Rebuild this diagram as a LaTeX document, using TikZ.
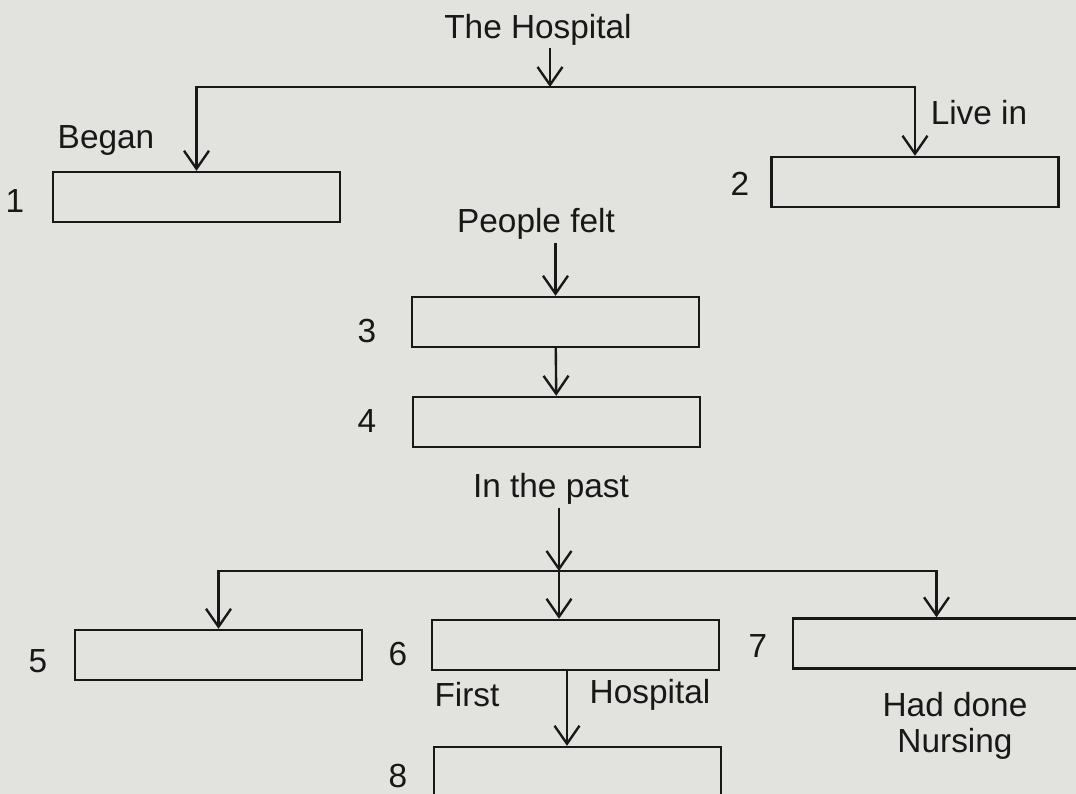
\documentclass[tikz,border=0pt]{standalone}
\usepackage{fontspec}
\setmainfont{Liberation Sans}
\usetikzlibrary{arrows.meta}
\definecolor{paper}{RGB}{226,226,222}
\definecolor{ink}{RGB}{24,24,24}

\begin{document}
\begin{tikzpicture}[x=0.02cm, y=-0.02cm, line width=1.35pt, draw=ink, text=ink,
    box/.style={draw, minimum width=5.74cm, minimum height=1cm, inner sep=0pt},
    lbl/.style={font=\fontsize{19}{20.5}\selectfont, inner sep=1pt},
    arr/.style={-{Straight Barb[length=0.36cm, width=0.5cm]}}]
    \useasboundingbox (0, 0) rectangle (1076, 794);
    \fill[paper] (0, 0) rectangle (1076, 794);
    \clip (0, 0) rectangle (1076, 794);
            % the blank boxes
            \node[box] (b1) at (196.5, 197) {};
            \node[box] (b2) at (915, 182) {};
            \node[box] (b3) at (555.5, 322) {};
            \node[box] (b4) at (556.5, 422) {};
            \node[box] (b5) at (218.5, 655) {};
            \node[box] (b6) at (575.5, 645) {};
            \node[box] (b7) at (936.5, 643.5) {};
            \node[box] (b8) at (577.5, 772) {};
            \node[lbl] (n1) at (15, 201) {1};
            \node[lbl] (n2) at (740, 184) {2};
            \node[lbl] (n3) at (367, 331) {3};
            \node[lbl] (n4) at (367, 421) {4};
            \node[lbl] (n5) at (38, 661) {5};
            \node[lbl] (n6) at (398, 654) {6};
            \node[lbl] (n7) at (758, 646) {7};
            \node[lbl] (n8) at (398, 776) {8};
            % the labels
            \node[lbl] (hosp) at (538, 30) {The Hospital};
            \node[lbl] (began) at (106, 140) {Began};
            \node[lbl] (livein) at (979, 113) {Live in};
            \node[lbl] (felt) at (536, 224) {People felt};
            \node[lbl] (past) at (551, 489) {In the past};
            \node[lbl] (first) at (467, 695) {First};
            \node[lbl] (hosp2) at (650, 695) {Hospital};
            \node[lbl, align=center] (nurse) at (955, 726) {Had done\\Nursing};
            \coordinate (j1) at (550, 87);
            \coordinate (j2) at (559, 571);
            \draw[arr] (hosp.south -| j1) -- (j1);
            \draw[arr] (j1) -| (b1.north);
            \draw[arr] (j1) -| (b2.north);
            \draw[arr] (felt.south -| b3.north) -- (b3.north);
            \path[arr]
                (b3) edge (b4)
            ;
            \draw[arr] (past.south -| j2) -- (j2);
            \draw[arr] (j2) -| (b5.north);
            \draw[arr] (j2) -- (j2 |- b6.north);
            \draw[arr] (j2) -| (b7.north);
            \draw[arr] ([xshift=-0.17cm]b6.south) -- ([xshift=-0.17cm]b6.south |- b8.north);
\end{tikzpicture}
\end{document}
